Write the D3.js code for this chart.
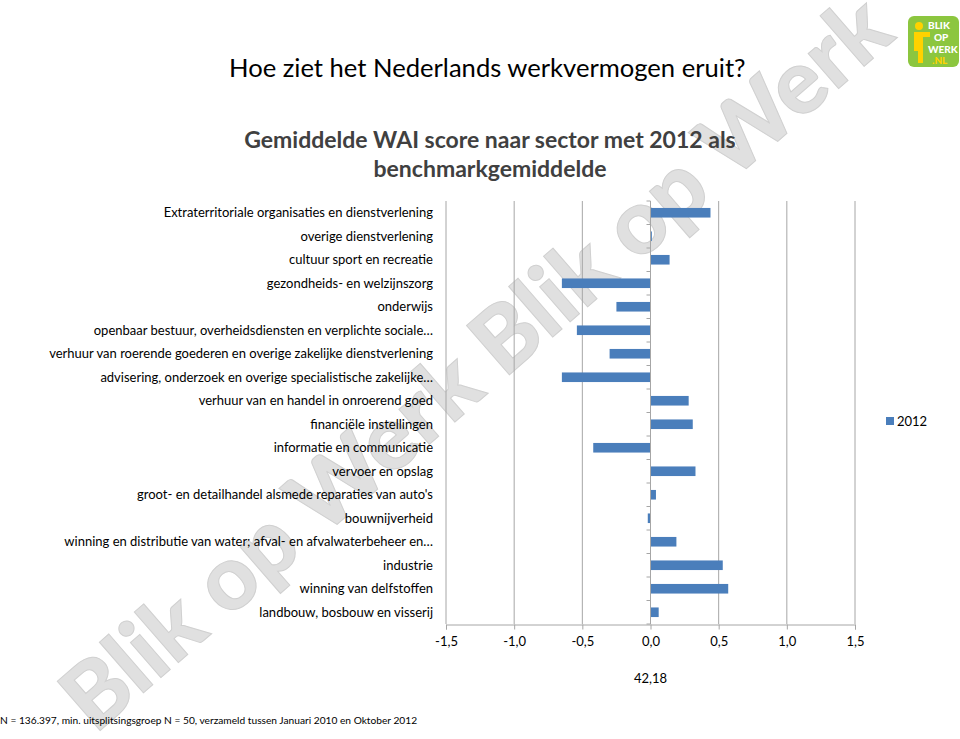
<!DOCTYPE html>
<html><head><meta charset="utf-8">
<script src="https://cdn.jsdelivr.net/npm/d3@7"></script>
<style>body{margin:0;background:#fff;} svg{display:block;font-family:Lato, Carlito, sans-serif;}</style>
</head><body>
<svg id="c" width="960" height="739"></svg>
<script>
const categories = [
"Extraterritoriale organisaties en dienstverlening",
"overige dienstverlening",
"cultuur sport en recreatie",
"gezondheids- en welzijnszorg",
"onderwijs",
"openbaar bestuur, overheidsdiensten en verplichte sociale…",
"verhuur van roerende goederen en overige zakelijke dienstverlening",
"advisering, onderzoek en overige specialistische zakelijke…",
"verhuur van en handel in onroerend goed",
"financiële instellingen",
"informatie en communicatie",
"vervoer en opslag",
"groot- en detailhandel alsmede reparaties van auto's",
"bouwnijverheid",
"winning en distributie van water; afval- en afvalwaterbeheer en…",
"industrie",
"winning van delfstoffen",
"landbouw, bosbouw en visserij"];
const values2012 = [0.44,0.01,0.14,-0.65,-0.25,-0.54,-0.30,-0.65,0.28,0.31,-0.42,0.33,0.04,-0.02,0.19,0.53,0.57,0.06];
const xTicks = [-1.5,-1.0,-0.5,0,0.5,1.0,1.5];
const seriesName = "2012";
const benchmark = "42,18";

const svg = d3.select("#c");
const fmt = v => d3.format(".1f")(v).replace(".", ",").replace("−","-");

// watermark
svg.append("text")
  .attr("transform","translate(95,735) rotate(-41)")
  .attr("font-size",90).attr("font-weight",900)
  .attr("fill","#e0e0e0").attr("stroke","#d0d0d0").attr("stroke-width",1)
  .attr("font-family","Lato, sans-serif")
  .text("Blik op Werk Blik op Werk");

// titles
svg.append("text").attr("x",229).attr("y",77).attr("font-size",25.6).attr("fill","#000")
  .text("Hoe ziet het Nederlands werkvermogen eruit?");
svg.append("text").attr("x",490).attr("y",148).attr("text-anchor","middle").attr("font-size",23).attr("font-weight",700).attr("fill","#404040")
  .text("Gemiddelde WAI score naar sector met 2012 als");
svg.append("text").attr("x",490).attr("y",177).attr("text-anchor","middle").attr("font-size",23).attr("font-weight",700).attr("fill","#404040")
  .text("benchmarkgemiddelde");

const x = d3.scaleLinear().domain([-1.5,1.5]).range([446,855]);
const yb = d3.scaleBand().domain(categories).range([201,624]);

// gridlines
svg.append("g").selectAll("line").data(xTicks.filter(t=>t!==0)).join("line")
  .attr("x1",d=>x(d)).attr("x2",d=>x(d)).attr("y1",201).attr("y2",624)
  .attr("stroke","#a6a6a6").attr("stroke-width",1);

// bars
svg.append("g").selectAll("rect").data(values2012).join("rect")
  .attr("x",(d)=>x(Math.min(0,d)))
  .attr("width",d=>Math.abs(x(d)-x(0)))
  .attr("y",(d,i)=>yb(categories[i])+yb.bandwidth()/2-4.8)
  .attr("height",9.6)
  .attr("fill","#4a7ebb");

// y axis at 0
const ya = svg.append("g");
ya.append("line").attr("x1",x(0)).attr("x2",x(0)).attr("y1",201).attr("y2",624).attr("stroke","#a6a6a6");
ya.selectAll("line.t").data(categories.map(c=>yb(c)).concat([624])).join("line").attr("class","t")
  .attr("x1",x(0)-4).attr("x2",x(0)).attr("y1",d=>d).attr("y2",d=>d).attr("stroke","#a6a6a6");

// x axis
const xa = svg.append("g").attr("transform","translate(0,624.5)")
  .call(d3.axisBottom(x).tickValues(xTicks).tickSize(5).tickFormat(fmt));
xa.select(".domain").attr("stroke","#a6a6a6");
xa.selectAll(".tick line").attr("stroke","#a6a6a6");
xa.selectAll(".tick text").attr("font-size",13).attr("font-family","Lato, sans-serif").attr("fill","#000").attr("dy","1.05em");

svg.append("text").attr("x",x(0)).attr("y",683).attr("text-anchor","middle").attr("font-size",13).text(benchmark);

// category labels
svg.append("g").selectAll("text").data(categories).join("text")
  .attr("x",433).attr("y",d=>yb(d)+yb.bandwidth()/2+4.5)
  .attr("text-anchor","end").attr("font-size",13).attr("fill","#000").text(d=>d);

// legend
svg.append("rect").attr("x",886).attr("y",417).attr("width",8).attr("height",8).attr("fill","#4a7ebb");
svg.append("text").attr("x",897).attr("y",426).attr("font-size",13).text(seriesName);

// footnote
svg.append("text").attr("x",0).attr("y",724).attr("font-size",10.2)
  .text("N = 136.397, min. uitsplitsingsgroep N = 50, verzameld tussen Januari 2010 en Oktober 2012");

// logo
const lg = svg.append("g").attr("transform","translate(908,16)");
lg.append("rect").attr("width",51).attr("height",51).attr("rx",6).attr("fill","#8cc63f");
lg.append("circle").attr("cx",11).attr("cy",10).attr("r",4).attr("fill","#ffd200");
lg.append("path").attr("d","M6,16 h16 v5 h-7 v26 h-5 v-12 h-4 z").attr("fill","#ffd200");
[["BLIK",15],["OP",27],["WERK",39],[".NL",50]].forEach((t,i)=>{
  lg.append("text").attr("x",i===1?26:(i===3?24:20)).attr("y",t[1]-2).attr("font-size",10).attr("font-weight",900)
    .attr("fill",i===3?"#ffd200":"#fff").text(t[0]);
});
</script>
</body></html>
